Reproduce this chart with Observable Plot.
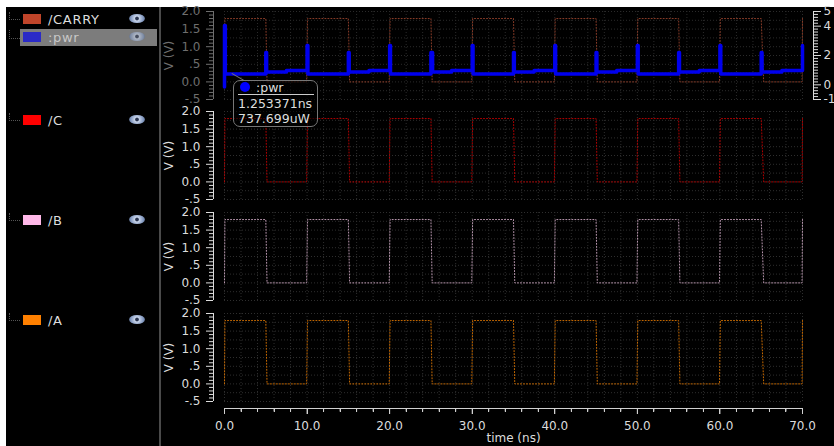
<!DOCTYPE html>
<html><head><meta charset="utf-8">
<script src="https://cdn.jsdelivr.net/npm/d3@7"></script>
<script src="https://cdn.jsdelivr.net/npm/@observablehq/plot@0.6"></script>
<style>
html,body{margin:0;padding:0;background:#fff;overflow:hidden}
#stage{position:absolute;left:6px;top:7px;width:828px;height:439px;background:#000}
#root{position:absolute;left:0;top:0;width:834px;height:446px;font-family:"DejaVu Sans",sans-serif}
#root svg{position:absolute;left:0}
.div{position:absolute;left:159px;top:7px;width:2px;height:439px;background:#4a4a4a}
.row{position:absolute;height:17px;line-height:17px;color:#ddd;font-size:13px;letter-spacing:.7px}
.sw{position:absolute;width:18px;height:10px;left:23px}
.eye{position:absolute;left:129px;width:16px;height:9px;border-radius:50%;background:radial-gradient(circle,#2a3550 0 15%,#c8d4ea 25%,#7f95bd 70%,#44536f 100%)}
.tree{position:absolute;left:9px;width:10px;border-bottom:1px dotted #555;border-left:1px dotted #555}
.xt{position:absolute;width:1px;background:#d0d0d0;z-index:6}
#tip{position:absolute;left:233px;top:80px;width:83px;height:45px;border:1px solid #777;border-radius:7px;background:rgba(0,0,0,.62);color:#ddd;font-size:12.5px;line-height:15px;box-sizing:content-box}
#tip .dot{position:absolute;left:6px;top:1px;width:10px;height:10px;border-radius:50%;background:#0000ff}
#tip .n{position:absolute;left:22px;top:-1px}
#tip .sep{position:absolute;left:4px;right:3px;top:13px;height:1px;background:#ccc}
#tip .a{position:absolute;left:4px;top:15px;white-space:nowrap}
#tip .b{position:absolute;left:4px;top:30px;white-space:nowrap}
#ptr{position:absolute;left:232px;top:73px;width:14px;height:1px;background:#777;transform:rotate(30deg);transform-origin:0 0}
</style></head>
<body>
<div id="stage"></div><div class="div"></div>
<div id="root"></div>
<script>
const legendNames = ["/CARRY", ":pwr", "/C", "/B", "/A"];
const legendColors = ["#c0452a", "#2a2ac8", "#ff0000", "#ffb8e8", "#ff8000"];
const waveT = [0,0.05,5,5.15,9.95,10.05,15,15.15,19.95,20.05,25,25.15,29.95,30.05,35,35.15,39.95,40.05,45,45.15,49.95,50.05,55,55.15,59.95,60.05,65,65.3,69.95,70];
const waveV = [0,1.8,1.8,0,0,1.8,1.8,0,0,1.8,1.8,0,0,1.8,1.8,0,0,1.8,1.8,0,0,1.8,1.8,0,0,1.8,1.8,0,0,1.8];
const pwrT = [0,0,0.1,0.1,5,5,5.1,5.1,7.5,7.5,10,10,10.1,10.1,15,15,15.1,15.1,17.5,17.5,20,20,20.1,20.1,25,25,25.2,25.2,27.5,27.5,30,30,30.1,30.1,35,35,35.1,35.1,37.5,37.5,40,40,40.1,40.1,45,45,45.1,45.1,47.5,47.5,50,50,50.1,50.1,55,55,55.1,55.1,57.5,57.5,60,60,60.1,60.1,65,65,65.1,65.1,67.5,67.5,70,70];
const pwrP = [-0.15,4.05,4.05,0.74,0.74,2.2,2.2,0.87,0.87,0.97,0.97,2.68,2.68,0.74,0.74,2.2,2.2,0.87,0.87,0.97,0.97,2.68,2.68,0.74,0.74,2.2,2.2,0.87,0.87,0.97,0.97,2.68,2.68,0.74,0.74,2.2,2.2,0.87,0.87,0.97,0.97,2.68,2.68,0.74,0.74,2.2,2.2,0.87,0.87,0.97,0.97,2.68,2.68,0.74,0.74,2.2,2.2,0.87,0.87,0.97,0.97,2.68,2.68,0.74,0.74,2.2,2.2,0.87,0.87,0.97,0.97,2.68];
const voltTicks = [-0.5,0,0.5,1,1.5,2];
const voltLabels = ["-.5","0.0",".5","1.0","1.5","2.0"];
const voltMinor = [-0.4,-0.3,-0.2,-0.1,0.1,0.2,0.3,0.4,0.6,0.7,0.8,0.9,1.1,1.2,1.3,1.4,1.6,1.7,1.8,1.9];
const voltGrid = [-0.5,-0.25,0,0.25,0.5,0.75,1,1.25,1.5,1.75,2];
const timeMajor = [0,10,20,30,40,50,60,70];
const timeLabels = ["0.0","10.0","20.0","30.0","40.0","50.0","60.0","70.0"];
const timeMinor = [2,4,6,8,12,14,16,18,22,24,26,28,32,34,36,38,42,44,46,48,52,54,56,58,62,64,66,68];
const timeGrid = [0,2,4,6,8,10,12,14,16,18,20,22,24,26,28,30,32,34,36,38,40,42,44,46,48,50,52,54,56,58,60,62,64,66,68,70];
const pwrTicks = [-1,0,2,4,5];
const pwrMinor = [-0.8,-0.6,-0.4,-0.2,0.2,0.4,0.6,0.8,1,1.2,1.4,1.6,1.8,2.2,2.4,2.6,2.8,3,3.2,3.4,3.6,3.8,4.2,4.4,4.6,4.8];
const panelTops = [11,111,212,313];
const panelColors = ["#8a3c28","#b00000","#b896ae","#c86a00"];
const panelNames = ["/CARRY","/C","/B","/A"];
const axisColors = ["#6e6e6e","#dcdcdc","#dcdcdc","#dcdcdc"];
const gridColors = ["#2a2a2a","#2e2e2e","#2e2e2e","#2e2e2e"];
const cursor = {name:":pwr", time:"1.253371ns", value:"737.699uW"};

const root = document.getElementById("root");
const fontFamily = '"DejaVu Sans",sans-serif';
const pad = 10, panelH = 88;
const xScale = {domain:[0,70], range:[224,802], axis:null};
const baseStyle = {background:"transparent",color:"#dcdcdc",fontFamily,fontSize:"12px",overflow:"visible"};

panelTops.forEach((top,i)=>{
  const h = panelH+pad*2;
  const col = axisColors[i];
  const marks = [
    Plot.ruleY(voltGrid,{y:d=>d,x1:0,x2:70,stroke:gridColors[i],strokeDasharray:"1 2"}),
    Plot.ruleX(timeGrid,{x:d=>d,y1:-0.5,y2:2,stroke:gridColors[i],strokeDasharray:"1 2"}),
    Plot.line(waveV,{x:waveT,y:waveV,stroke:panelColors[i],strokeWidth:1,strokeDasharray:"1 2",curve:"linear"}),
    Plot.axisY(voltMinor,{anchor:"left",tickSize:4,tickFormat:()=>"",label:null,stroke:col}),
    Plot.axisY(voltTicks,{anchor:"left",tickSize:7,tickPadding:6,tickFormat:d=>voltLabels[voltTicks.indexOf(d)],fontSize:12,fill:col,stroke:col,
      label:"V (V)",labelAnchor:"center",labelArrow:"none",labelOffset:49}),
    Plot.ruleX([0],{x:()=>0,y1:-0.5,y2:2,dx:-11,stroke:col})
  ];
  const svg = Plot.plot({
    width:834,height:h,
    marginLeft:213,marginRight:21,marginTop:pad,marginBottom:pad,
    x:xScale,
    y:{domain:[-0.5,2],range:[pad+panelH,pad]},
    style:baseStyle,
    marks
  });
  svg.style.top=(top-pad)+"px";
  svg.setAttribute("aria-label",panelNames[i]);
  root.appendChild(svg);
});

/* power trace, drawn over the first panel on its own right-hand scale */
{
  const top = panelTops[0], h = panelH+pad*2;
  const svg = Plot.plot({
    width:834,height:h,
    marginLeft:213,marginRight:21,marginTop:pad,marginBottom:pad,
    x:xScale,
    y:{domain:[-1,5],range:[pad+panelH,pad]},
    style:baseStyle,
    marks:[
      Plot.line(pwrP,{x:pwrT,y:pwrP,stroke:"#0000ee",strokeWidth:3.5,curve:"linear"}),
      Plot.axisY(pwrMinor,{anchor:"right",tickSize:4,tickFormat:()=>"",label:null,stroke:"#dcdcdc"}),
      Plot.axisY(pwrTicks,{anchor:"right",tickSize:7,tickPadding:3,tickFormat:d=>String(d),fontSize:12,fill:"#dcdcdc",stroke:"#dcdcdc",label:null}),
      Plot.frame({anchor:"right",stroke:"#dcdcdc"})
    ]
  });
  svg.style.top=(top-pad)+"px";
  svg.setAttribute("aria-label",":pwr");
  root.appendChild(svg);
}

/* legend */
const rowY = [19,37,120,220,320];
legendNames.forEach((name,i)=>{
  const y = rowY[i];
  if(i===1){
    const bg=document.createElement("div");
    bg.style.cssText=`position:absolute;left:20px;top:${y-8}px;width:137px;height:17px;background:#7c7c7c;border:0`;
    root.appendChild(bg);
  }
  const tree=document.createElement("div");
  tree.className="tree";
  tree.style.top=(y-7)+"px";tree.style.height=(i===1?8:7)+"px";
  root.appendChild(tree);
  const sw=document.createElement("div");
  sw.className="sw";sw.style.top=(y-5)+"px";sw.style.background=legendColors[i];
  root.appendChild(sw);
  const lab=document.createElement("div");
  lab.className="row";lab.style.left="48px";lab.style.top=(y-8)+"px";lab.textContent=name;
  if(i===1) lab.style.color="#c8c8c8";
  root.appendChild(lab);
  const eye=document.createElement("div");
  eye.className="eye";eye.style.top=(y-5)+"px";
  if(i===1) eye.style.opacity=.65;
  root.appendChild(eye);
});

/* cursor read-out */
const ptr=document.createElement("div");ptr.id="ptr";root.appendChild(ptr);
const tip=document.createElement("div");tip.id="tip";
tip.innerHTML=`<div class="dot"></div><div class="n">${cursor.name}</div><div class="sep"></div><div class="a">${cursor.time}</div><div class="b">${cursor.value}</div>`;
root.appendChild(tip);

/* shared time axis under the last panel */
{
  const axisTop = 400, h = 46, lead = 8, depth = 6;
  const svg = Plot.plot({
    width:834,height:h,
    marginLeft:213,marginRight:21,marginTop:lead,marginBottom:h-lead-depth,
    x:xScale,
    y:{domain:[0,1],range:[lead,lead+depth],axis:null},
    style:baseStyle,
    marks:[
      Plot.ruleY([0],{x1:0,x2:70,stroke:"#d0d0d0",strokeWidth:1}),
      Plot.ruleX(timeMinor,{x:d=>d,y1:0,y2:0.6,stroke:"#d0d0d0"}),
      Plot.ruleX(timeMajor,{x:d=>d,y1:0,y2:1,stroke:"#d0d0d0"}),
      Plot.axisX(timeMajor,{anchor:"bottom",tickSize:0,tickPadding:7,tickFormat:d=>timeLabels[timeMajor.indexOf(d)],fontSize:12,fill:"#dcdcdc",
        label:"time (ns)",labelAnchor:"center",labelArrow:"none",labelOffset:27})
    ]
  });
  svg.style.top=axisTop+"px";
  svg.setAttribute("aria-label","time axis");
  root.appendChild(svg);
  /* the same line and ticks, placed from the plot's own x scale */
  const xs = svg.scale("x");
  const y0 = axisTop+lead;
  const addTick = (t,len)=>{
    const el=document.createElement("div");
    el.className="xt";
    el.style.left=Math.round(xs.apply(t))+"px";
    el.style.top=y0+"px";
    el.style.height=len+"px";
    root.appendChild(el);
  };
  timeMinor.forEach(t=>addTick(t,4));
  timeMajor.forEach(t=>addTick(t,depth));
  const base=document.createElement("div");
  base.className="xt";
  base.style.left=Math.round(xs.apply(0))+"px";
  base.style.top=y0+"px";
  base.style.height="1px";
  base.style.width=Math.round(xs.apply(70)-xs.apply(0))+"px";
  root.appendChild(base);
}
</script>
</body></html>
